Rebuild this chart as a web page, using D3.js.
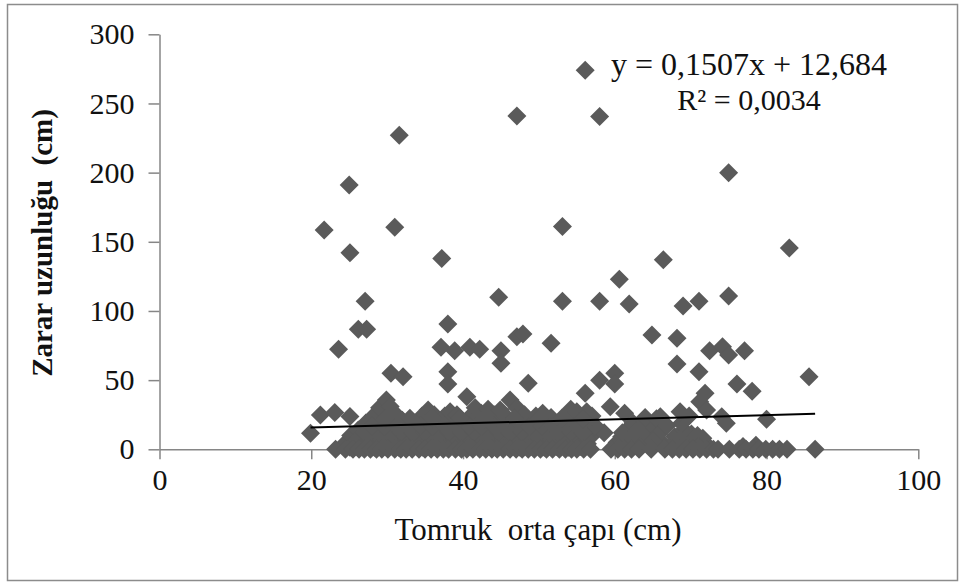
<!DOCTYPE html>
<html>
<head>
<meta charset="utf-8">
<script src="https://cdn.jsdelivr.net/npm/d3@7"></script>
<style>
  body { margin: 0; background: #fff; }
  svg { display: block; }
  text { font-family: "Liberation Serif", "Times New Roman", serif; fill: #111; }
</style>
</head>
<body>
<svg id="chart" width="965" height="583"></svg>
<script>
// Axis ticks
const xTicks = [0, 20, 40, 60, 80, 100];
const yTicks = [0, 50, 100, 150, 200, 250, 300];

// Linear trend fitted to the logs
const slope = 0.1507;
const intercept = 12.684;
const equationLabel = "y = 0,1507x + 12,684";
const r2Label = "R² = 0,0034";

// Logs with long damage (diameter cm, damage length cm)
const upperPoints = [
  [56.1,274],[58.0,240.5],[47.1,241],[31.6,227],[25.0,191],[21.7,158.6],[31.0,160.5],
  [75.0,200],[53.1,161],[83.0,145.5],[25.1,142],[37.2,138],[66.4,137],[60.6,123],
  [44.7,110],[75.0,110.8],[27.1,107],[53.1,107],[58.0,107],[61.9,105],[69.0,103.6],
  [71.1,107],[38.0,90.6],[26.2,86.8],[27.3,86.8],[47.1,81.4],[47.9,83.4],[64.9,82.6],
  [68.2,80.2],[51.6,76.6],[23.6,72.3],[37.1,73.7],[38.9,71.3],[40.9,73.7],[42.2,72.3],
  [45.0,71.3],[45.0,62.2],[72.5,71.3],[74.2,74.2],[75.0,68.2],[77.1,71.3],[68.2,61.7],
  [38.0,56.1],[38.0,47.2],[30.5,55],[32.1,52.5],[60.0,55],[60.0,47.2],[58.0,50],
  [71.1,56.1],[85.6,52.5],[48.6,47.7],[76.1,47.2],[78.1,41.9],[56.1,40.5],[71.9,40.5],
  [71.2,34.4],[80.0,21.7],[74.7,18.8],[19.9,11.6],[21.2,24.8],[23.1,26.6],[25.1,23.7],
  [25.5,4.3]
];

// Dense group of short damage lengths
const clusterPoints = [
  [24.4,4],[26.0,5],[27.6,3],[29.2,6],[30.8,4],[32.4,5],[34.0,3],[35.6,6],[37.2,4],[38.8,5],
  [40.4,3],[42.0,6],[43.6,4],[45.2,5],[46.8,3],[48.4,6],[50.0,4],[51.6,5],[53.2,3],[54.8,6],
  [56.4,4],[60.3,5],[61.7,3],[63.0,6],[64.3,4],[66.2,5],[67.5,3],[69.6,4],[70.8,7],[72.2,3],
  [76.9,2],[78.6,3],
  [25.2,10],[26.8,9],[28.4,11],[30.0,8],[31.6,10],[33.2,9],[34.8,11],[36.4,8],[38.0,10],[39.6,9],
  [41.2,11],[42.8,8],[44.4,10],[46.0,9],[47.6,11],[49.2,8],[50.8,10],[52.4,9],[54.0,11],[55.6,8],
  [57.0,10],[60.9,9],[62.3,11],[63.7,8],[65.1,10],[67.9,9],[70.1,11],[71.6,8],
  [26.2,14],[27.8,15],[29.4,13],[31.0,16],[32.6,14],[34.2,15],[35.8,13],[37.4,16],[39.0,14],[40.6,15],
  [42.2,13],[43.8,16],[45.4,14],[47.0,15],[48.6,13],[50.2,16],[51.8,14],[53.4,15],[55.0,13],[56.6,16],
  [58.6,12],[61.6,14],[63.1,16],[64.6,13],[66.1,15],[69.1,14],[70.9,10],
  [27.2,19],[28.8,20],[30.4,18],[32.0,21],[33.6,19],[35.2,20],[36.8,18],[38.4,21],[40.0,19],[41.6,20],
  [43.2,18],[44.8,21],[46.4,19],[48.0,20],[49.6,18],[51.2,21],[52.8,19],[54.4,20],[56.0,18],[57.4,17],
  [62.4,19],[63.9,20],[65.3,18],[68.8,18.8],
  [28.2,24],[29.0,30],[29.9,35.6],[30.4,31],[31.2,25],[34.6,24],[35.4,28.4],[36.2,25],[37.6,24],[38.3,27.2],
  [39.2,25],[40.5,38],[41.0,24],[41.6,30],[42.4,26],[43.3,29],[44.1,25],[44.9,28.4],[45.6,24],[46.2,35.6],
  [47.1,30],[48.1,25],[49.6,24],[50.5,26],[51.6,23],[53.6,24],[54.2,29],[55.0,27.2],[56.3,27.2],[57.0,24],
  [59.4,30.8],[61.3,26],[64.0,23],[65.5,22],[66.0,23.6],[68.6,27.2],[69.8,24],[72.1,28.4],[74.1,23.6],
  // in-between logs that close up the dense band
  [25.1,1.5],[26.7,2],[28.3,1.5],[29.9,2],[31.5,1.5],[33.1,2],[34.7,1.5],[36.3,2],[37.9,1.5],[39.5,2],
  [41.1,1.5],[42.7,2],[44.3,1.5],[45.9,2],[47.5,1.5],[49.1,2],[50.7,1.5],[52.3,2],[53.9,1.5],[55.5,2],
  [26.1,7],[27.7,7.5],[29.3,7],[30.9,7.5],[32.5,7],[34.1,7.5],[35.7,7],[37.3,7.5],[38.9,7],[40.5,7.5],
  [42.1,7],[43.7,7.5],[45.3,7],[46.9,7.5],[48.5,7],[50.1,7.5],[51.7,7],[53.3,7.5],[54.9,7],[56.3,7.5],
  [27.0,12],[28.6,12.5],[30.2,12],[31.8,12.5],[33.4,12],[35.0,12.5],[36.6,12],[38.2,12.5],[39.8,12],[41.4,12.5],
  [43.0,12],[44.6,12.5],[46.2,12],[47.8,12.5],[49.4,12],[51.0,12.5],[52.6,12],[54.2,12.5],[55.8,12],
  [28.0,17],[29.6,16.5],[31.2,17],[32.8,16.5],[34.4,17],[36.0,16.5],[37.6,17],[39.2,16.5],[40.8,17],[42.4,16.5],
  [44.0,17],[45.6,16.5],[47.2,17],[48.8,16.5],[50.4,17],[52.0,16.5],[53.6,17],[55.2,16.5],
  [29.8,22],[33.0,22.5],[36.0,22],[39.6,22.5],[42.8,22],[46.8,22.5],[50.0,22],[53.0,22.5],[55.8,22],
  [61.0,12],[62.9,13],[64.0,9],[65.8,11],[66.9,17],[62.0,7],[63.4,2],[65.0,6],[68.6,7],[71.0,2]
];

// Diameters of logs with no damage (damage length 0)
const zeroDiameters = [
  23.2,24.5,25.5,26.3,27.0,27.8,28.6,29.3,30.1,31.0,31.8,32.5,33.3,34.2,35.0,35.8,36.6,37.4,38.1,39.0,
  39.8,40.5,41.3,42.2,43.0,43.8,44.5,45.3,46.2,47.0,47.8,48.6,49.4,50.2,51.0,51.8,52.7,53.5,54.3,55.0,
  55.9,56.8,59.5,60.4,61.3,62.2,63.2,64.8,66.6,67.6,68.5,69.4,70.3,71.2,72.1,73.0,73.6,75.1,76.4,77.3,
  78.2,79.0,79.9,80.8,81.7,82.7,86.4
];

const points = upperPoints
  .concat(clusterPoints)
  .concat(zeroDiameters.map(d => [d, 0]));

const svg = d3.select("#chart");
const plot = { left: 159.5, right: 918.3, top: 34.3, bottom: 449.3 };
const axisColor = "#868686";
const markColor = "#5a5a5a";
const fontSize = 30;

// outer frame
svg.append("rect")
  .attr("x", 7.5).attr("y", 4.5)
  .attr("width", 950).attr("height", 576)
  .attr("fill", "#fff").attr("stroke", "#8c8c8c").attr("stroke-width", 1.5);

const x = d3.scaleLinear().domain([0, 100]).range([plot.left, plot.right]);
const y = d3.scaleLinear().domain([0, 300]).range([plot.bottom, plot.top]);

// y axis
const yAxis = svg.append("g")
  .attr("transform", `translate(${plot.left},0)`)
  .call(d3.axisLeft(y).tickValues(yTicks).tickSize(11).tickPadding(14).tickSizeOuter(0));
// x axis
const xAxis = svg.append("g")
  .attr("transform", `translate(0,${plot.bottom})`)
  .call(d3.axisBottom(x).tickValues(xTicks).tickSize(10).tickPadding(9).tickSizeOuter(0));

[xAxis, yAxis].forEach(g => {
  g.select(".domain").attr("stroke", axisColor).attr("stroke-width", 1.5);
  g.selectAll(".tick line").attr("stroke", axisColor).attr("stroke-width", 1.5);
  g.selectAll(".tick text")
    .attr("font-size", fontSize)
    .attr("font-family", "Liberation Serif, serif")
    .attr("fill", "#111");
});

// diamond markers
const half = 9.5;
const diamond = `M0,${-half}L${half},0L0,${half}L${-half},0Z`;
svg.append("g")
  .selectAll("path")
  .data(points)
  .join("path")
  .attr("d", diamond)
  .attr("transform", d => `translate(${x(d[0])},${y(d[1])})`)
  .attr("fill", markColor);

// trend line over the range of diameters
const [xMin, xMax] = d3.extent(points, d => d[0]);
svg.append("line")
  .attr("x1", x(xMin)).attr("y1", y(slope * xMin + intercept))
  .attr("x2", x(xMax)).attr("y2", y(slope * xMax + intercept))
  .attr("stroke", "#000").attr("stroke-width", 2);

// trend equation and fit quality
svg.append("text")
  .attr("x", 749).attr("y", 75)
  .attr("text-anchor", "middle")
  .attr("font-size", 32)
  .text(equationLabel);
svg.append("text")
  .attr("x", 749).attr("y", 110)
  .attr("text-anchor", "middle")
  .attr("font-size", 30)
  .text(r2Label);

// axis titles
svg.append("text")
  .attr("x", 538).attr("y", 540)
  .attr("text-anchor", "middle")
  .attr("font-size", 31)
  .style("white-space", "pre")
  .text("Tomruk  orta çapı (cm)");
svg.append("text")
  .attr("transform", "translate(52,243) rotate(-90)")
  .attr("text-anchor", "middle")
  .attr("font-size", 29)
  .attr("font-weight", "bold")
  .style("white-space", "pre")
  .text("Zarar uzunluğu  (cm)");
</script>
</body>
</html>
